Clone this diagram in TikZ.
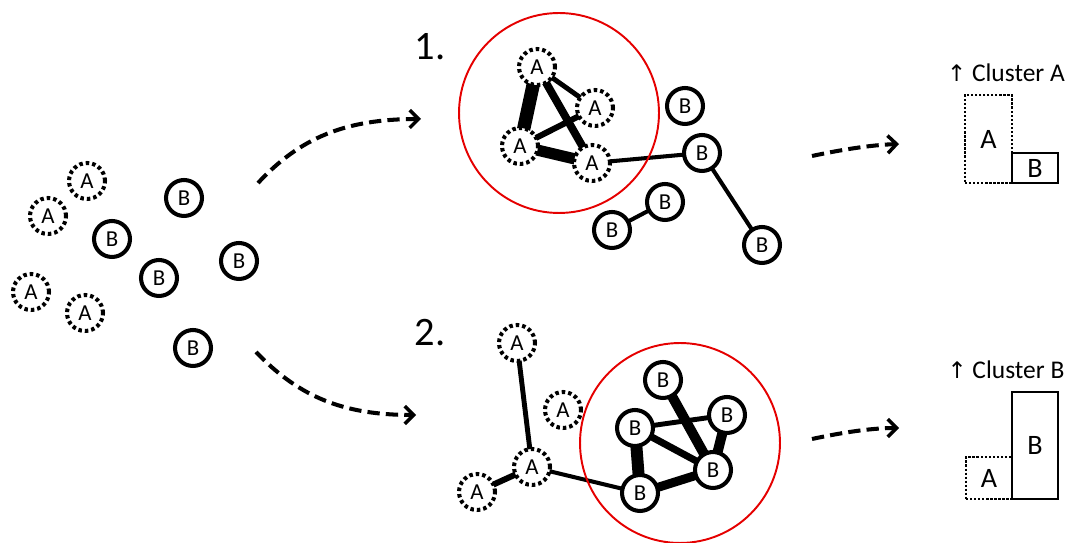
\documentclass[tikz,border=0pt]{standalone}
\usepackage{fontspec}
\setmainfont{Carlito}
\newfontfamily\symfont{DejaVu Sans}
\usetikzlibrary{arrows.meta}
\pgfdeclarelayer{background}
\pgfsetlayers{background,main}
\tikzset{
  nodeA/.style={circle, draw, fill=white, line width=2.3pt, dash pattern=on 2pt off 1.7pt,
    minimum size=0.72cm, inner sep=0pt, font=\fontsize{13pt}{14pt}\selectfont},
  nodeB/.style={circle, draw, fill=white, line width=2.3pt,
    minimum size=0.72cm, inner sep=0pt, font=\fontsize{13pt}{14pt}\selectfont},
  redring/.style={circle, draw=red!90!black, line width=1.1pt, minimum size=4cm, inner sep=0pt},
  darrow/.style={line width=2.3pt, dash pattern=on 7pt off 3.5pt,
    -{Straight Barb[length=5pt,width=10pt,line width=2pt]}},
  rectA/.style={draw, line width=1.2pt, dash pattern=on 1.3pt off 1pt, inner sep=0pt,
    font=\fontsize{16pt}{17pt}\selectfont},
  rectB/.style={draw, line width=1.2pt, inner sep=0pt, font=\fontsize{16pt}{17pt}\selectfont},
  steplabel/.style={font=\fontsize{23pt}{24pt}\selectfont, inner sep=0pt},
  clusterlabel/.style={font=\fontsize{14.5pt}{16pt}\selectfont, inner sep=0pt},
  edge/.style={line cap=butt}
}
\begin{document}
\begin{tikzpicture}[x=0.02cm, y=-0.02cm]
\useasboundingbox (0,0) rectangle (1069,543);

% ---- left scattered nodes ----
\node[nodeA] (la1) at (87,181) {A};
\node[nodeA] (la2) at (48,216) {A};
\node[nodeA] (la3) at (31,292) {A};
\node[nodeA] (la4) at (85,313) {A};
\node[nodeB] (lb1) at (184,198) {B};
\node[nodeB] (lb2) at (112,239) {B};
\node[nodeB] (lb3) at (159,278) {B};
\node[nodeB] (lb4) at (239,261) {B};
\node[nodeB] (lb5) at (193,348) {B};

% ---- curved arrows ----
\coordinate (s1) at (258,183);
\coordinate (e1) at (421,119);
\coordinate (s2) at (256,352);
\coordinate (e2) at (416,415);
\draw[darrow] (s1) .. controls (300,138) and (345,119) .. (e1);
\draw[darrow] (s2) .. controls (300,398) and (345,415) .. (e2);

% ---- panel 1 ----
\node[steplabel] (l1) at (430,47) {1.};
\node[redring] (c1) at (559,113) {};
\node[nodeA] (p1a1) at (537,67) {A};
\node[nodeA] (p1a2) at (595,108) {A};
\node[nodeA] (p1a3) at (520,146) {A};
\node[nodeA] (p1a4) at (592,163) {A};
\node[nodeB] (p1b1) at (685,106) {B};
\node[nodeB] (p1b2) at (702,153) {B};
\node[nodeB] (p1b3) at (665,202) {B};
\node[nodeB] (p1b4) at (612,230) {B};
\node[nodeB] (p1b5) at (762,245) {B};
\begin{pgfonlayer}{background}
\draw[edge, line width=2.8pt] (p1a1.center) -- (p1a2.center);
\draw[edge, line width=7.6pt] (p1a1.center) -- (p1a3.center);
\draw[edge, line width=4.5pt] (p1a1.center) -- (p1a4.center);
\draw[edge, line width=3.4pt] (p1a3.center) -- (p1a2.center);
\draw[edge, line width=6.4pt] (p1a3.center) -- (p1a4.center);
\draw[edge, line width=2.3pt] (p1a4.center) -- (p1b2.center);
\draw[edge, line width=2.3pt] (p1b2.center) -- (p1b5.center);
\draw[edge, line width=2.3pt] (p1b4.center) -- (p1b3.center);
\end{pgfonlayer}

% ---- panel 2 ----
\node[steplabel] (l2) at (430,333) {2.};
\node[redring] (c2) at (680,443) {};
\node[nodeA] (p2a1) at (517,343) {A};
\node[nodeA] (p2a2) at (563,410) {A};
\node[nodeA] (p2a3) at (532,467) {A};
\node[nodeA] (p2a4) at (477,492) {A};
\node[nodeB] (p2b1) at (663,380) {B};
\node[nodeB] (p2b2) at (727,415) {B};
\node[nodeB] (p2b3) at (635,428) {B};
\node[nodeB] (p2b4) at (713,470) {B};
\node[nodeB] (p2b5) at (640,493) {B};
\begin{pgfonlayer}{background}
\draw[edge, line width=2.8pt] (p2a1.center) -- (p2a3.center);
\draw[edge, line width=3.4pt] (p2a3.center) -- (p2a4.center);
\draw[edge, line width=2.3pt] (p2a3.center) -- (p2b5.center);
\draw[edge, line width=5.7pt] (p2b1.center) -- (p2b4.center);
\draw[edge, line width=2.8pt] (p2b3.center) -- (p2b2.center);
\draw[edge, line width=4.0pt] (p2b3.center) -- (p2b4.center);
\draw[edge, line width=6.8pt] (p2b3.center) -- (p2b5.center);
\draw[edge, line width=5.7pt] (p2b2.center) -- (p2b4.center);
\draw[edge, line width=5.1pt] (p2b5.center) -- (p2b4.center);
\end{pgfonlayer}

% ---- right arrows ----
\coordinate (s3) at (812,156);
\coordinate (e3) at (899,144);
\coordinate (s4) at (812,439);
\coordinate (e4) at (899,428);
\draw[darrow] (s3) .. controls (840,150) and (870,145) .. (e3);
\draw[darrow] (s4) .. controls (840,433) and (870,428) .. (e4);

% ---- cluster A result ----
\node[clusterlabel] (ca) at (1006,73) {{\symfont\fontsize{13pt}{15pt}\selectfont ↑} Cluster A};
\node[rectA, minimum width=0.94cm, minimum height=1.76cm] (ra1) at (988.5,139) {A};
\node[rectB, minimum width=0.92cm, minimum height=0.6cm] (rb1) at (1035,168) {B};

% ---- cluster B result ----
\node[clusterlabel] (cb) at (1006,370) {{\symfont\fontsize{13pt}{15pt}\selectfont ↑} Cluster B};
\node[rectB, minimum width=0.92cm, minimum height=2.14cm] (rb2) at (1035,445.5) {B};
\node[rectA, minimum width=0.92cm, minimum height=0.84cm] (ra2) at (989,478) {A};
\end{tikzpicture}
\end{document}
